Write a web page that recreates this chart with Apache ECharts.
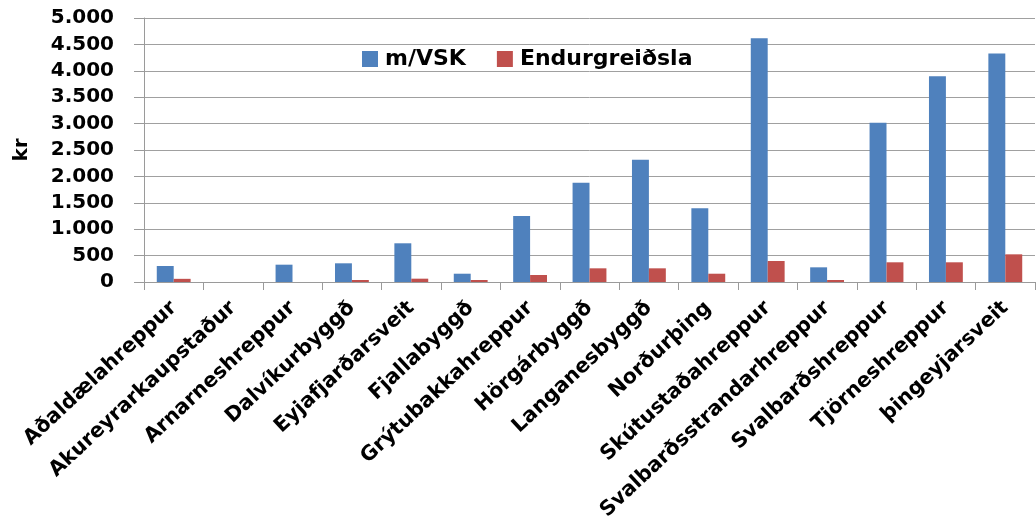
<!DOCTYPE html>
<html><head><meta charset="utf-8">
<script src="https://cdn.jsdelivr.net/npm/echarts@6/dist/echarts.min.js"></script>
<style>html,body{margin:0;padding:0;background:#fff}#c{width:1036px;height:527px}</style>
</head><body><div id="c"></div>
<script>
const categories = ["Aðaldælahreppur","Akureyrarkaupstaður","Arnarneshreppur","Dalvíkurbyggð","Eyjafjarðarsveit","Fjallabyggð","Grýtubakkahreppur","Hörgárbyggð","Langanesbyggð","Norðurþing","Skútustaðahreppur","Svalbarðsstrandarhreppur","Svalbarðshreppur","Tjörneshreppur","þingeyjarsveit"];
const mVSK = [303, 0, 328, 354, 733, 157, 1250, 1881, 2316, 1395, 4615, 278, 3017, 3895, 4330];
const endurgreidsla = [60, 0, 0, 38, 63, 38, 133, 259, 259, 157, 398, 38, 373, 373, 524];
const yTicks = [0, 500, 1000, 1500, 2000, 2500, 3000, 3500, 4000, 4500, 5000];

const FONT = "DejaVu Sans";
const chart = echarts.init(document.getElementById('c'), null, {renderer: 'canvas'});
chart.setOption({
  animation: false,
  backgroundColor: '#ffffff',
  grid: {left: 144, right: 1, top: 18, bottom: 245, containLabel: false},
  legend: {
    left: 357, top: 43,
    itemWidth: 16, itemHeight: 16, itemGap: 31,
    icon: 'rect',
    textStyle: {fontFamily: FONT, fontWeight: 'bold', fontSize: 22, color: '#000', padding: [0, 0, 0, 2]},
    data: ['m/VSK', 'Endurgreiðsla']
  },
  xAxis: {
    type: 'category',
    data: categories,
    axisLine: {lineStyle: {color: '#9a9a9a', width: 1}},
    axisTick: {show: true, length: 8, alignWithLabel: false, lineStyle: {color: '#9a9a9a'}},
    axisLabel: {
      interval: 0, rotate: 43, margin: 23,
      fontFamily: FONT, fontWeight: 'bold', fontSize: 20.5, color: '#000'
    }
  },
  yAxis: {
    type: 'value',
    min: yTicks[0], max: yTicks[yTicks.length - 1], interval: 500,
    name: 'kr', nameLocation: 'middle', nameGap: 112, nameRotate: 90,
    nameTextStyle: {fontFamily: FONT, fontWeight: 'bold', fontSize: 20, color: '#000'},
    axisLine: {show: true, lineStyle: {color: '#9a9a9a'}},
    axisTick: {show: true, length: 10, lineStyle: {color: '#9a9a9a'}},
    splitLine: {show: true, lineStyle: {color: '#a0a0a0', width: 1}},
    axisLabel: {
      margin: 30, fontFamily: FONT, fontWeight: 'bold', fontSize: 20, color: '#000',
      formatter: v => v >= 1000 ? (Math.floor(v/1000) + '.' + String(v%1000).padStart(3,'0')) : String(v)
    }
  },
  series: [
    {name: 'm/VSK', type: 'bar', data: mVSK, barGap: '0%', barCategoryGap: '43%',
     itemStyle: {color: '#4F81BD'}},
    {name: 'Endurgreiðsla', type: 'bar', data: endurgreidsla,
     itemStyle: {color: '#C0504D'}}
  ]
});
</script></body></html>
